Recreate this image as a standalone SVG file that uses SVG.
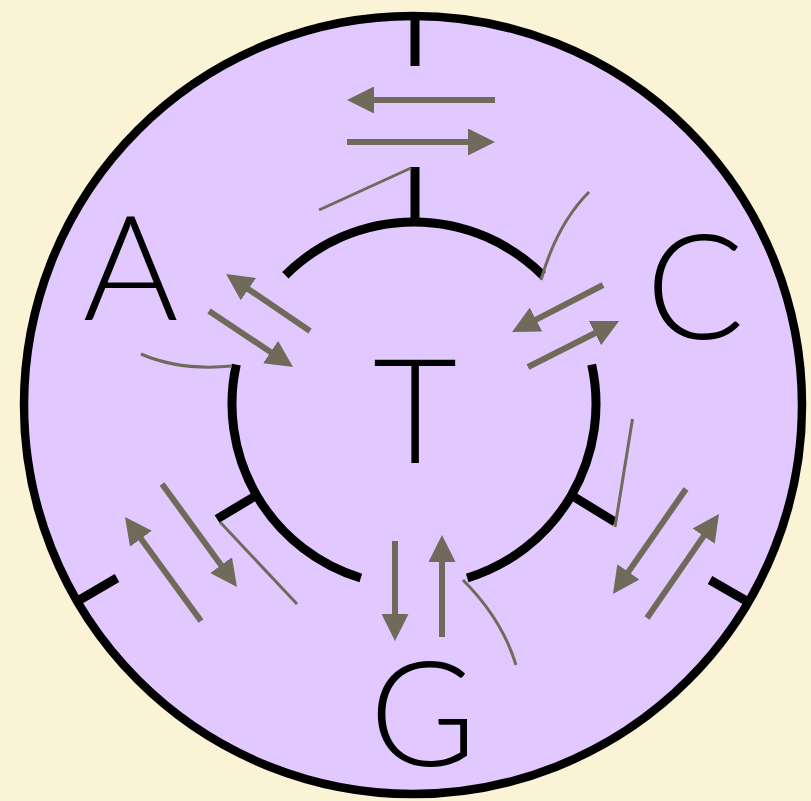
<svg xmlns="http://www.w3.org/2000/svg" width="811" height="801" viewBox="0 0 811 801">
<defs>
<marker id="ah" markerUnits="userSpaceOnUse" markerWidth="27" markerHeight="27" refX="7" refY="13.5" orient="auto" viewBox="0 0 27 27">
<path d="M0,0 L27,13.5 L0,27 Z" fill="#6f6a59"/>
</marker>
<style>
.bk{fill:none;stroke:#000;stroke-width:9;stroke-linecap:butt}
.ar{fill:none;stroke:#6f6a59;stroke-width:6;marker-end:url(#ah)}
.th{fill:none;stroke:#6f6a59;stroke-width:3}
.lb{font-family:Lato,"Open Sans","DejaVu Sans",sans-serif;font-weight:300;font-size:146px;fill:#000;text-anchor:middle}
</style>
</defs>
<rect width="811" height="801" fill="#fbf3d5"/>
<g id="outer">
<circle cx="413" cy="405" r="389" fill="#e1c9ff" stroke="#000" stroke-width="8.5"/>
<line class="bk" x1="415" y1="18" x2="415" y2="66"/>
<line class="bk" x1="117" y1="578" x2="76" y2="602"/>
<line class="bk" x1="710" y1="580" x2="750" y2="603"/>
</g>
<g id="inner">
<path class="bk" d="M285.3,275.3 A182,182 0 0 1 542.7,275.3"/>
<path class="bk" d="M591.7,364.6 A182,182 0 0 1 467.2,578"/>
<path class="bk" d="M360.8,578 A182,182 0 0 1 236.3,364.6"/>
<line class="bk" x1="415" y1="222" x2="415" y2="167"/>
<line class="bk" x1="571" y1="495" x2="615" y2="522"/>
<line class="bk" x1="257" y1="495" x2="217" y2="519"/>
</g>
<g id="labels">
<text class="lb" x="130.5" y="320">A</text>
<text class="lb" x="695" y="339">C</text>
<text class="lb" x="415" y="463">T</text>
<text class="lb" x="423" y="766">G</text>
</g>
<g id="connectors">
<line class="ar" x1="495" y1="100" x2="367" y2="100"/>
<line class="ar" x1="347" y1="142" x2="475" y2="142"/>
<line class="ar" x1="310" y1="331" x2="242.6" y2="285.2"/>
<line class="ar" x1="209" y1="311" x2="276.4" y2="355.9"/>
<line class="ar" x1="603" y1="285" x2="529.8" y2="322.8"/>
<line class="ar" x1="528" y1="367" x2="601.2" y2="330"/>
<line class="ar" x1="395" y1="541" x2="395" y2="621"/>
<line class="ar" x1="442" y1="637" x2="442" y2="555"/>
<line class="ar" x1="201" y1="621" x2="136.8" y2="533.1"/>
<line class="ar" x1="162" y1="484" x2="225.2" y2="570.8"/>
<line class="ar" x1="686" y1="489" x2="624.4" y2="577.6"/>
<line class="ar" x1="647" y1="618" x2="707.6" y2="530.4"/>
<line class="th" x1="319" y1="210" x2="411" y2="168"/>
<path class="th" d="M589,192 Q557,224 541,280"/>
<path class="th" d="M141,354 Q180,371 232,366"/>
<line class="th" x1="220" y1="522" x2="297" y2="604"/>
<line class="th" x1="632.5" y1="419" x2="615" y2="527"/>
<path class="th" d="M463,580 Q502,619 516,665"/>
</g>
</svg>
